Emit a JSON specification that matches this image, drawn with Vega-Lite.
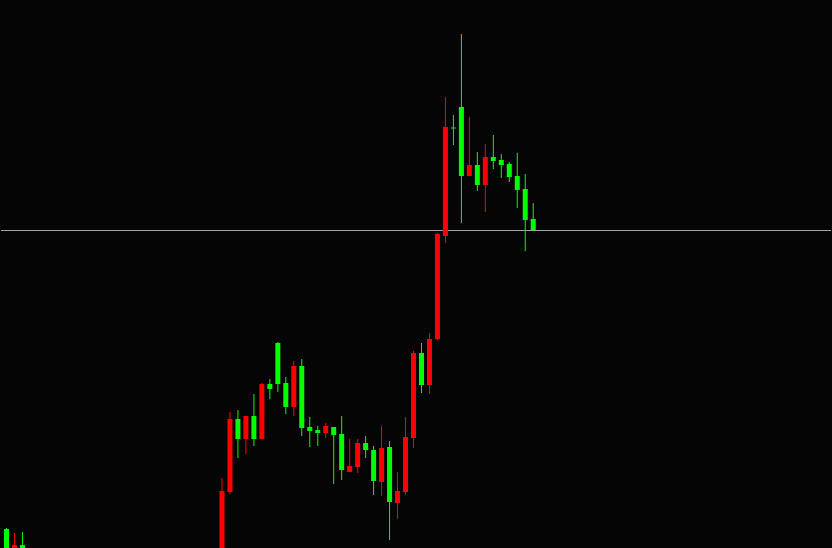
{
  "$schema": "https://vega.github.io/schema/vega-lite/v6.json",
  "autosize": {"type": "fit", "contains": "padding"},
  "width": 832,
  "height": 548,
  "padding": 0,
  "background": "#050505",
  "config": {"view": {"stroke": null}, "scale": {"continuousPadding": 0}},
  "datasets": {
    "candles": [
      {"i": 0, "open": 19, "close": -7, "high": 20, "low": -12},
      {"i": 1, "open": -7, "close": 3, "high": 15, "low": -12},
      {"i": 2, "open": 3, "close": -4, "high": 16, "low": -10},
      {"i": 27, "open": -12, "close": 57, "high": 70, "low": -15},
      {"i": 28, "open": 56, "close": 129, "high": 136, "low": 54},
      {"i": 29, "open": 129, "close": 109, "high": 138, "low": 90},
      {"i": 30, "open": 109, "close": 132, "high": 132, "low": 94},
      {"i": 31, "open": 132, "close": 109, "high": 154, "low": 102},
      {"i": 32, "open": 109, "close": 164, "high": 165, "low": 109},
      {"i": 33, "open": 164, "close": 159, "high": 169, "low": 149},
      {"i": 34, "open": 205, "close": 164, "high": 206, "low": 156},
      {"i": 35, "open": 165, "close": 141, "high": 171, "low": 134},
      {"i": 36, "open": 141, "close": 182, "high": 187, "low": 132},
      {"i": 37, "open": 182, "close": 120, "high": 189, "low": 112},
      {"i": 38, "open": 121, "close": 117, "high": 131, "low": 101},
      {"i": 39, "open": 118, "close": 115, "high": 122, "low": 102},
      {"i": 40, "open": 115, "close": 122, "high": 125, "low": 110},
      {"i": 41, "open": 121, "close": 113, "high": 121, "low": 64},
      {"i": 42, "open": 114, "close": 78, "high": 132, "low": 68},
      {"i": 43, "open": 76, "close": 82, "high": 109, "low": 76},
      {"i": 44, "open": 81, "close": 105, "high": 109, "low": 75},
      {"i": 45, "open": 105, "close": 98, "high": 112, "low": 90},
      {"i": 46, "open": 98, "close": 67, "high": 102, "low": 53},
      {"i": 47, "open": 66, "close": 100, "high": 122, "low": 52},
      {"i": 48, "open": 101, "close": 46, "high": 107, "low": 8},
      {"i": 49, "open": 45, "close": 57, "high": 76, "low": 29},
      {"i": 50, "open": 56, "close": 111, "high": 131, "low": 53},
      {"i": 51, "open": 110, "close": 195, "high": 197, "low": 100},
      {"i": 52, "open": 195, "close": 163, "high": 205, "low": 155},
      {"i": 53, "open": 163, "close": 209, "high": 215, "low": 154},
      {"i": 54, "open": 209, "close": 314, "high": 315, "low": 208},
      {"i": 55, "open": 312, "close": 421, "high": 451, "low": 305},
      {"i": 56, "open": 420.5, "close": 419.5, "high": 433, "low": 403},
      {"i": 57, "open": 441, "close": 372, "high": 514, "low": 325},
      {"i": 58, "open": 372, "close": 383, "high": 431, "low": 372},
      {"i": 59, "open": 383, "close": 363, "high": 396, "low": 357},
      {"i": 60, "open": 363, "close": 391, "high": 404, "low": 336},
      {"i": 61, "open": 391, "close": 387, "high": 413, "low": 379},
      {"i": 62, "open": 388, "close": 383, "high": 394, "low": 370},
      {"i": 63, "open": 384, "close": 371, "high": 386, "low": 366},
      {"i": 64, "open": 372, "close": 358, "high": 395, "low": 340},
      {"i": 65, "open": 359, "close": 328, "high": 374, "low": 297},
      {"i": 66, "open": 329, "close": 318, "high": 345, "low": 317}
    ],
    "level": [{"price": 317.5}]
  },
  "layer": [
    {
      "data": {"name": "level"},
      "mark": {"type": "rule", "color": "#a4a4b0", "strokeWidth": 1},
      "encoding": {
        "y": {"field": "price", "type": "quantitative", "scale": {"domain": [0, 548], "nice": false, "zero": false, "padding": 0}, "axis": null}
      }
    },
    {
      "data": {"name": "candles"},
      "mark": {"type": "rule", "strokeWidth": 1, "clip": true},
      "encoding": {
        "x": {"field": "i", "type": "quantitative", "scale": {"domain": [-0.6875, 103.3125], "nice": false, "zero": false, "padding": 0}, "axis": null},
        "y": {"field": "low", "type": "quantitative", "scale": {"domain": [0, 548], "nice": false, "zero": false, "padding": 0}, "axis": null},
        "y2": {"field": "high"},
        "color": {"condition": {"test": "datum.close > datum.open", "value": "#ff0000"}, "value": "#00ff00"}
      }
    },
    {
      "data": {"name": "candles"},
      "mark": {"type": "bar", "size": 5, "clip": true},
      "encoding": {
        "x": {"field": "i", "type": "quantitative", "scale": {"domain": [-0.6875, 103.3125], "nice": false, "zero": false, "padding": 0}, "axis": null},
        "y": {"field": "open", "type": "quantitative", "scale": {"domain": [0, 548], "nice": false, "zero": false, "padding": 0}, "axis": null},
        "y2": {"field": "close"},
        "color": {"condition": {"test": "datum.close > datum.open", "value": "#ff0000"}, "value": "#00ff00"}
      }
    }
  ]
}
